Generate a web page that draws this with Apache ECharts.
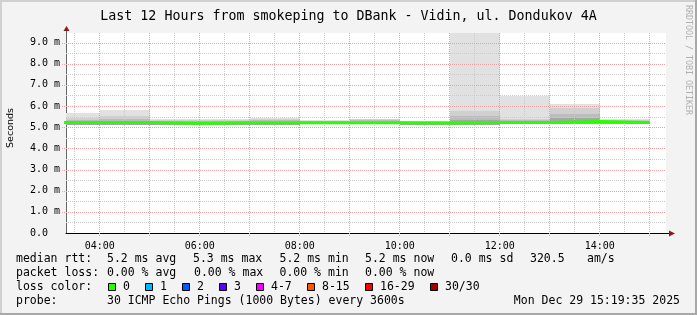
<!DOCTYPE html>
<html><head><meta charset="utf-8">
<script src="https://cdn.jsdelivr.net/npm/echarts@6/dist/echarts.min.js"></script>
<style>html,body{margin:0;padding:0;background:#f3f3f3}#c{width:697px;height:315px}</style>
</head><body><div id="c"></div>
<script>
// ---- data ----
const titleText = 'Last 12 Hours from smokeping to DBank - Vidin, ul. Dondukov 4A';
const startHour = 3 + 19/60 + 35/3600;   // 03:19:35
const endHour = startHour + 12;           // 15:19:35
const segHours = [3, 4, 5, 6, 7, 8, 9, 10, 11, 12, 13, 14]; // each step = 3600 s
const medianMs = [5.22, 5.22, 5.19, 5.21, 5.21, 5.21, 5.21, 5.20, 5.22, 5.22, 5.27, 5.22];
const smokeMin   = [5.12, 5.12, 5.09, 5.12, 5.12, 5.13, 5.13, 5.12, 5.12, 5.15, 5.15, 5.15];
const smokeMax   = [5.66, 5.81, 5.39, 5.37, 5.43, 5.33, 5.40, 5.31, 9.90, 6.49, 6.08, 5.40];
const smokeHigh  = [5.45, 5.55, 5.32, 5.32, 5.39, 5.30, 5.38, 5.29, 5.77, 5.40, 5.90, 5.35];
const smokeMid   = [5.33, 5.38, 5.27, 5.28, 5.33, 5.27, 5.32, 5.26, 5.52, 5.33, 5.62, 5.30];
const smokeInner = [5.27, 5.28, 5.23, 5.24, 5.26, 5.24, 5.26, 5.23, 5.36, 5.27, 5.45, 5.26];
const xLabelHours = [4, 6, 8, 10, 12, 14];
const xMajorHours = [4, 5, 6, 7, 8, 9, 10, 11, 12, 13, 14, 15];
const xMinorHours = [3.5, 4.5, 5.5, 6.5, 7.5, 8.5, 9.5, 10.5, 11.5, 12.5, 13.5, 14.5];
const yMajorMs = [1, 2, 3, 4, 5, 6, 7, 8, 9];
const yMinorMs = [0.5, 1.5, 2.5, 3.5, 4.5, 5.5, 6.5, 7.5, 8.5];
const rttLabels = ['median rtt:', '5.2 ms avg', '5.3 ms max', '5.2 ms min', '5.2 ms now', '0.0 ms sd', '320.5', 'am/s'];
const lossLabels = ['packet loss:', '0.00 % avg', '0.00 % max', '0.00 % min', '0.00 % now'];
const lossColorLabels = ['0', '1', '2', '3', '4-7', '8-15', '16-29', '30/30'];
const lossColors = ['#26ff00', '#00b8ff', '#0059ff', '#5e00ff', '#ee00ff', '#ff5500', '#ff0000', '#a10000'];
const probeText = '30 ICMP Echo Pings (1000 Bytes) every 3600s';
const dateText = 'Mon Dec 29 15:19:35 2025';

// ---- styles / layout ----
const MONO = '"DejaVu Sans Mono", monospace';
const smokeColors = ['#e1e1e1', '#d0d0d0', '#bcbcbc', '#a6a6a6'];
const majorC = '#e8a0a0', minorC = '#cbcbcb';

const smokeLayers = [smokeMax, smokeHigh, smokeMid, smokeInner];
const smokeData = [];
smokeLayers.forEach((layer, L) => segHours.forEach((h, i) => smokeData.push([h, h + 1, smokeMin[i], layer[i], L])));
const medianData = segHours.map((h, i) => [h, medianMs[i]]);
medianData.push([segHours[segHours.length - 1] + 1, medianMs[medianMs.length - 1]]);
const gridData = [];
xMajorHours.forEach(v => gridData.push([0, v]));
xMinorHours.forEach(v => gridData.push([1, v]));
yMajorMs.forEach(v => gridData.push([2, v]));
yMinorMs.forEach(v => gridData.push([3, v]));

function renderSmoke(params, api) {
  const a = api.coord([api.value(0), api.value(3)]);
  const b = api.coord([api.value(1), api.value(2)]);
  const cs = params.coordSys;
  const x0 = Math.round(a[0]), x1 = Math.round(b[0]), y0 = Math.round(a[1]), y1 = Math.round(b[1]);
  const shape = echarts.graphic.clipRectByRect({x: x0, y: y0, width: x1 - x0, height: y1 - y0},
    {x: cs.x, y: cs.y, width: cs.width, height: cs.height});
  if (!shape) return;
  return {type: 'rect', shape: shape, style: {fill: smokeColors[api.value(4)]}};
}
function renderGrid(params, api) {
  const kind = api.value(0), v = api.value(1), cs = params.coordSys;
  const style = {stroke: (kind === 0 || kind === 2) ? majorC : minorC, lineWidth: 1, lineDash: [1, 1]};
  if (kind < 2) {
    const x = Math.round(api.coord([v, 0])[0]) - 0.5;
    if (x < cs.x || x > cs.x + cs.width) return;
    return {type: 'line', shape: {x1: x, y1: cs.y, x2: x, y2: cs.y + cs.height + (kind === 0 ? 3 : 0)}, style: style};
  }
  const y = Math.round(api.coord([startHour, v])[1]) + 0.5;
  return {type: 'line', shape: {x1: cs.x - (kind === 2 ? 4 : 0), y1: y, x2: cs.x + cs.width, y2: y}, style: style};
}

const chart = echarts.init(document.getElementById('c'), null, {renderer: 'canvas'});
const txt = (x, y, text, extra) => Object.assign({type: 'text', x: x, y: y, style: Object.assign({text: text, font: '11.5px ' + MONO, fill: '#000', verticalAlign: 'middle'}, {})}, extra || {});
const graphics = [];
// frame
graphics.push({type: 'rect', shape: {x: 0, y: 0, width: 697, height: 2}, style: {fill: '#d0d0d0'}, silent: true});
graphics.push({type: 'rect', shape: {x: 0, y: 0, width: 2, height: 315}, style: {fill: '#d0d0d0'}, silent: true});
graphics.push({type: 'rect', shape: {x: 695, y: 0, width: 2, height: 315}, style: {fill: '#a8a8a8'}, silent: true});
graphics.push({type: 'rect', shape: {x: 0, y: 313, width: 697, height: 2}, style: {fill: '#a8a8a8'}, silent: true});
// axis extensions and arrows
graphics.push({type: 'line', shape: {x1: 66.5, y1: 33, x2: 66.5, y2: 29}, style: {stroke: '#666', lineWidth: 1}, z: 10});
graphics.push({type: 'polygon', shape: {points: [[63.5, 31], [66.5, 26], [69.5, 31]]}, style: {fill: '#8b1a1a'}, z: 10});
graphics.push({type: 'line', shape: {x1: 666, y1: 233.5, x2: 670, y2: 233.5}, style: {stroke: '#000', lineWidth: 1}, z: 10});
graphics.push({type: 'polygon', shape: {points: [[669, 230.5], [675, 233.5], [669, 236.5]]}, style: {fill: '#8b1a1a'}, z: 10});
// y title
graphics.push({type: 'text', x: 11, y: 128, rotation: Math.PI / 2, style: {text: 'Seconds', font: '9.5px "DejaVu Sans", sans-serif', fill: '#000', align: 'center', verticalAlign: 'middle'}});
// watermark
graphics.push({type: 'text', x: 688, y: 60, rotation: -Math.PI / 2, style: {text: 'RRDTOOL / TOBI OETIKER', font: '8.3px ' + MONO, fill: '#b0b0b0', align: 'center', verticalAlign: 'middle'}});
// legend rows
const rttX = [16, 107, 193, 279.5, 365, 451, 530, 587];
rttLabels.forEach((t, i) => graphics.push(txt(rttX[i], 259, t)));
const lossX = [16, 107, 194, 279.5, 365];
lossLabels.forEach((t, i) => graphics.push(txt(lossX[i], 273, t)));
graphics.push(txt(16, 287, 'loss color:'));
const boxX = [108.5, 145.5, 182.5, 219.5, 256.5, 307.5, 365.5, 430.5];
const boxLabelX = [123, 160, 197, 234, 271, 322, 380, 445];
lossColorLabels.forEach((t, i) => {
  graphics.push({type: 'rect', shape: {x: boxX[i], y: 283.5, width: 7, height: 7}, style: {fill: lossColors[i], stroke: '#000', lineWidth: 1}});
  graphics.push(txt(boxLabelX[i], 287, t));
});
graphics.push(txt(16, 301, 'probe:'));
graphics.push(txt(107, 301, probeText));
graphics.push({type: 'text', x: 680, y: 301, style: {text: dateText, font: '11.5px ' + MONO, fill: '#000', align: 'right', verticalAlign: 'middle'}});

chart.setOption({
  backgroundColor: '#f3f3f3',
  animation: false,
  title: {text: titleText, left: 'center', top: 5,
    textStyle: {fontFamily: MONO, fontSize: 13.3, fontWeight: 'normal', color: '#000'}},
  grid: {left: 66, right: 31, top: 33, bottom: 82, show: true, backgroundColor: '#ffffff', borderWidth: 0},
  xAxis: {type: 'value', min: startHour, max: endHour,
    axisLine: {show: true, onZero: false, lineStyle: {color: '#000', width: 1}},
    axisTick: {show: false}, splitLine: {show: false},
    axisLabel: {customValues: xLabelHours, fontFamily: MONO, fontSize: 10, color: '#000', margin: 8,
      formatter: v => (v < 10 ? '0' : '') + v + ':00'}},
  yAxis: {type: 'value', min: 0, max: 9.45, interval: 0.5,
    axisLine: {show: true, lineStyle: {color: '#666', width: 1}},
    axisTick: {show: false}, splitLine: {show: false},
    axisLabel: {fontFamily: MONO, fontSize: 10, color: '#000', align: 'left', margin: 36, showMaxLabel: false,
      formatter: v => (Math.abs(v - Math.round(v)) > 1e-9) ? '' : (v === 0 ? '0.0' : v.toFixed(1) + ' m')}},
  graphic: graphics,
  series: [
    {type: 'custom', name: 'smoke', data: smokeData, renderItem: renderSmoke, encode: {x: [0, 1], y: [2, 3]}, z: 1, silent: true},
    {type: 'custom', name: 'grid', data: gridData, renderItem: renderGrid, clip: false, z: 2, silent: true},
    {type: 'line', name: 'median rtt', data: medianData, step: 'end', symbol: 'none', clip: true, z: 3,
      lineStyle: {color: '#26ff00', width: 3}}
  ]
});
</script></body></html>
